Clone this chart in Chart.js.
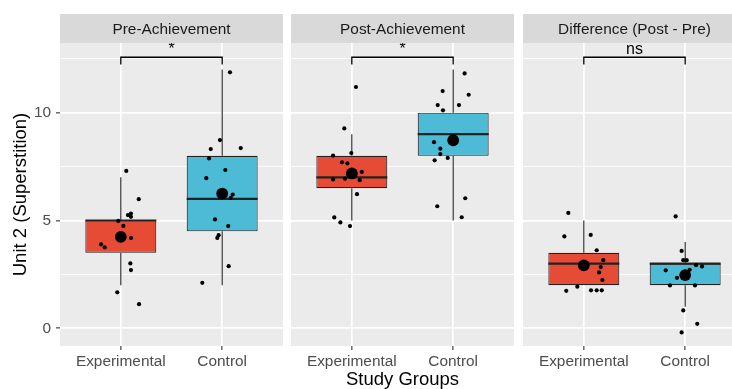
<!DOCTYPE html>
<html>
<head>
<meta charset="utf-8">
<script src="https://cdn.jsdelivr.net/npm/chart.js@4.4.1/dist/chart.umd.min.js"></script>
<style>
  html, body { margin: 0; padding: 0; background: #ffffff; width: 732px; height: 389px; overflow: hidden; }
  canvas { position: absolute; top: 0; }
</style>
</head>
<body>
<canvas id="panel0" width="283" height="389" style="left:0px"></canvas>
<canvas id="panel1" width="223" height="389" style="left:291px"></canvas>
<canvas id="panel2" width="223" height="389" style="left:523px"></canvas>
<script>
// ---- data ----
const groups = ['Experimental', 'Control'];
const panelTitles = ['Pre-Achievement', 'Post-Achievement', 'Difference (Post - Pre)'];
const yTickValues = [0, 5, 10];
const yGridValues = [0, 2.5, 5, 7.5, 10, 12.5];
const groupColors = ['#E64B35', '#4DBBD5'];

// box summaries per group: lower whisker, Q1, median, Q3, upper whisker
const preBoxes  = [[2, 3.5, 5, 5, 7], [2, 4.5, 6, 8, 12]];
const postBoxes = [[5, 6.5, 7, 8, 9], [5, 8, 9, 10, 12]];
const diffBoxes = [[2, 2, 3, 3.5, 5], [1, 2, 3, 3, 4]];

// group means
const preMeans  = [4.24, 6.25];
const postMeans = [7.18, 8.72];
const diffMeans = [2.92, 2.47];

// individual (jittered) scores and their horizontal jitter
const preExperimental       = [7.30, 5.99, 5.25, 5.32, 5.17, 4.98, 4.75, 4.19, 3.89, 3.75, 3.01, 2.70, 1.67, 1.12];
const preExperimentalJitter = [0.054, 0.177, 0.07, 0.10, 0.10, -0.025, 0.025, 0.10, -0.195, -0.159, 0.094, 0.10, -0.035, 0.18];
const preControl            = [11.87, 8.73, 8.31, 8.36, 7.88, 7.34, 6.96, 6.20, 6.05, 5.05, 4.74, 4.32, 4.19, 2.88, 2.11];
const preControlJitter      = [0.077, -0.022, -0.113, 0.183, -0.130, 0.031, -0.157, 0.104, 0.084, -0.071, 0.060, -0.035, -0.048, 0.064, -0.196];

const postExperimental       = [11.19, 9.27, 8.13, 8.01, 7.70, 7.65, 7.25, 6.94, 6.90, 6.87, 6.22, 5.14, 4.91, 4.74];
const postExperimentalJitter = [0.041, -0.074, -0.005, -0.185, -0.097, -0.044, 0.098, -0.067, -0.185, 0.078, 0.051, -0.173, -0.113, -0.018];
const postControl            = [11.82, 11.00, 10.83, 10.35, 10.35, 10.11, 8.63, 8.33, 8.08, 7.90, 7.79, 6.03, 5.66, 5.15];
const postControlJitter      = [0.113, -0.104, 0.153, -0.153, 0.057, -0.101, -0.189, -0.127, -0.127, -0.054, -0.183, 0.119, -0.157, 0.084];

const diffExperimental       = [5.35, 4.26, 4.33, 3.62, 3.16, 2.84, 2.59, 2.24, 1.93, 1.74, 1.76, 1.76, 1.76];
const diffExperimentalJitter = [-0.153, -0.192, 0.068, 0.127, 0.192, 0.167, 0.150, 0.183, -0.064, -0.173, 0.071, 0.127, 0.177];
const diffControl            = [5.19, 3.59, 3.16, 3.16, 2.93, 2.87, 2.69, 2.71, 2.34, 1.99, 1.99, 0.83, 0.21, -0.19];
const diffControlJitter      = [-0.094, -0.035, -0.019, 0.015, 0.107, 0.166, -0.192, 0.044, -0.081, -0.150, 0.097, -0.019, 0.119, -0.035];

// significance brackets between the two groups
const comparisonLabels = ['*', '*', 'ns'];
const bracketLevels = [12.57, 12.57, 12.57];

// ---- assembly ----
const panels = [
  { boxes: preBoxes,  means: preMeans,  scores: [preExperimental, preControl],   jitter: [preExperimentalJitter, preControlJitter] },
  { boxes: postBoxes, means: postMeans, scores: [postExperimental, postControl], jitter: [postExperimentalJitter, postControlJitter] },
  { boxes: diffBoxes, means: diffMeans, scores: [diffExperimental, diffControl], jitter: [diffExperimentalJitter, diffControlJitter] }
];

const FONT = '"Liberation Sans", Arial, Helvetica, sans-serif';
Chart.defaults.font.family = FONT;
const INK = '#222222';

function facetPlugin(p) {
  const panel = panels[p];
  return {
    id: 'facet' + p,
    beforeDraw(chart) {
      const { ctx, chartArea: a } = chart;
      ctx.save();
      ctx.fillStyle = '#EBEBEB';
      ctx.fillRect(a.left, a.top, a.right - a.left, a.bottom - a.top);
      ctx.fillStyle = '#D9D9D9';
      ctx.fillRect(a.left, a.top - 29, a.right - a.left, 29);
      ctx.fillStyle = '#1A1A1A';
      ctx.font = '15.4px ' + FONT;
      ctx.textAlign = 'center';
      ctx.textBaseline = 'alphabetic';
      ctx.fillText(panelTitles[p], (a.left + a.right) / 2, a.top - 9);
      ctx.restore();
    },
    beforeDatasetsDraw(chart) {
      // whiskers sit underneath the boxes
      const { ctx } = chart;
      const xs = chart.scales.x, ys = chart.scales.y;
      ctx.save();
      ctx.strokeStyle = INK;
      ctx.lineWidth = 1.1;
      panel.boxes.forEach((s, i) => {
        const px = xs.getPixelForValue(i + 1);
        ctx.beginPath();
        ctx.moveTo(px, ys.getPixelForValue(s[0]));
        ctx.lineTo(px, ys.getPixelForValue(s[1]));
        ctx.moveTo(px, ys.getPixelForValue(s[3]));
        ctx.lineTo(px, ys.getPixelForValue(s[4]));
        ctx.stroke();
      });
      ctx.restore();
    },
    afterDatasetDraw(chart, args) {
      if (args.index !== 0) return;
      // median lines across each box
      const { ctx } = chart;
      const ys = chart.scales.y;
      ctx.save();
      ctx.strokeStyle = INK;
      ctx.lineWidth = 2.2;
      args.meta.data.forEach((bar, i) => {
        const py = ys.getPixelForValue(panel.boxes[i][2]);
        ctx.beginPath();
        ctx.moveTo(bar.x - bar.width / 2, py);
        ctx.lineTo(bar.x + bar.width / 2, py);
        ctx.stroke();
      });
      ctx.restore();
    },
    afterDatasetsDraw(chart) {
      const { ctx, chartArea: a } = chart;
      const xs = chart.scales.x, ys = chart.scales.y;
      const x1 = xs.getPixelForValue(1), x2 = xs.getPixelForValue(2);
      const y0 = ys.getPixelForValue(bracketLevels[p]);
      ctx.save();
      ctx.beginPath();
      ctx.rect(a.left, a.top, a.right - a.left, a.bottom - a.top);
      ctx.clip();
      ctx.strokeStyle = '#000';
      ctx.lineWidth = 1.3;
      ctx.beginPath();
      ctx.moveTo(x1, y0 + 7.3);
      ctx.lineTo(x1, y0);
      ctx.lineTo(x2, y0);
      ctx.lineTo(x2, y0 + 7.3);
      ctx.stroke();
      ctx.fillStyle = '#000';
      ctx.font = '16px ' + FONT;
      ctx.textAlign = 'center';
      ctx.textBaseline = 'alphabetic';
      ctx.fillText(comparisonLabels[p], (x1 + x2) / 2, y0 - 3.4);
      ctx.restore();
    }
  };
}

function buildPanel(p) {
  const panel = panels[p];
  const first = p === 0;
  const middle = p === 1;

  const boxData = panel.boxes.map((s, i) => ({ x: i + 1, y: [s[1], s[3]] }));
  const pointData = [];
  panel.scores.forEach((vals, i) => {
    vals.forEach((v, k) => pointData.push({ x: i + 1 + panel.jitter[i][k], y: v }));
  });
  const meanData = panel.means.map((m, i) => ({ x: i + 1, y: m }));

  const yScale = {
    type: 'linear',
    min: -0.82,
    max: 13.23,
    afterBuildTicks: s => { s.ticks = yGridValues.map(v => ({ value: v })); },
    afterFit: s => { s.width = first ? 60 : 0; },
    border: { display: false },
    grid: {
      color: '#FFFFFF',
      lineWidth: c => (yTickValues.includes(c.tick.value) ? 1.7 : 0.8),
      drawTicks: first,
      tickLength: 4,
      tickWidth: 1.1,
      tickColor: c => (yTickValues.includes(c.tick.value) ? '#333333' : 'rgba(0,0,0,0)')
    },
    ticks: {
      display: first,
      color: '#4D4D4D',
      font: { size: 15.4 },
      padding: 5,
      callback: v => (yTickValues.includes(v) ? String(v) : '')
    },
    title: {
      display: first,
      text: 'Unit 2 (Superstition)',
      color: '#000000',
      font: { size: 18.5, lineHeight: 1 },
      padding: { top: 11.5, bottom: 0 }
    }
  };

  const xScale = {
    type: 'linear',
    min: 0.4,
    max: 2.6,
    offset: false,
    afterBuildTicks: s => { s.ticks = groups.map((g, i) => ({ value: i + 1 })); },
    afterFit: s => { s.height = 43; },
    border: { display: false },
    grid: {
      color: '#FFFFFF',
      lineWidth: 1.7,
      offset: false,
      drawTicks: true,
      tickLength: 4,
      tickWidth: 1.1,
      tickColor: '#333333'
    },
    ticks: {
      color: '#4D4D4D',
      font: { size: 15.4 },
      padding: 3,
      maxRotation: 0,
      autoSkip: false,
      callback: v => groups[Math.round(v) - 1]
    },
    title: {
      display: middle,
      text: 'Study Groups',
      color: '#000000',
      font: { size: 18.5, lineHeight: 1 },
      padding: { top: 0, bottom: 0 }
    }
  };

  return new Chart(document.getElementById('panel' + p), {
    type: 'scatter',
    data: {
      datasets: [
        {
          type: 'bar',
          data: boxData,
          backgroundColor: groupColors,
          borderColor: INK,
          borderWidth: 1.1,
          borderSkipped: false,
          barPercentage: 0.7,
          categoryPercentage: 1,
          order: 3
        },
        {
          type: 'scatter',
          data: pointData,
          pointRadius: 2.1,
          pointBorderWidth: 0,
          pointBackgroundColor: '#000000',
          order: 2
        },
        {
          type: 'scatter',
          data: meanData,
          pointRadius: 5.9,
          pointBorderWidth: 0,
          pointBackgroundColor: '#000000',
          order: 1
        }
      ]
    },
    options: {
      responsive: false,
      animation: false,
      devicePixelRatio: 1,
      events: [],
      layout: { autoPadding: false, padding: { top: 43, left: 0, right: 0, bottom: 0 } },
      plugins: { legend: { display: false }, tooltip: { enabled: false } },
      scales: { x: xScale, y: yScale }
    },
    plugins: [facetPlugin(p)]
  });
}

[0, 1, 2].forEach(buildPanel);
</script>
</body>
</html>
